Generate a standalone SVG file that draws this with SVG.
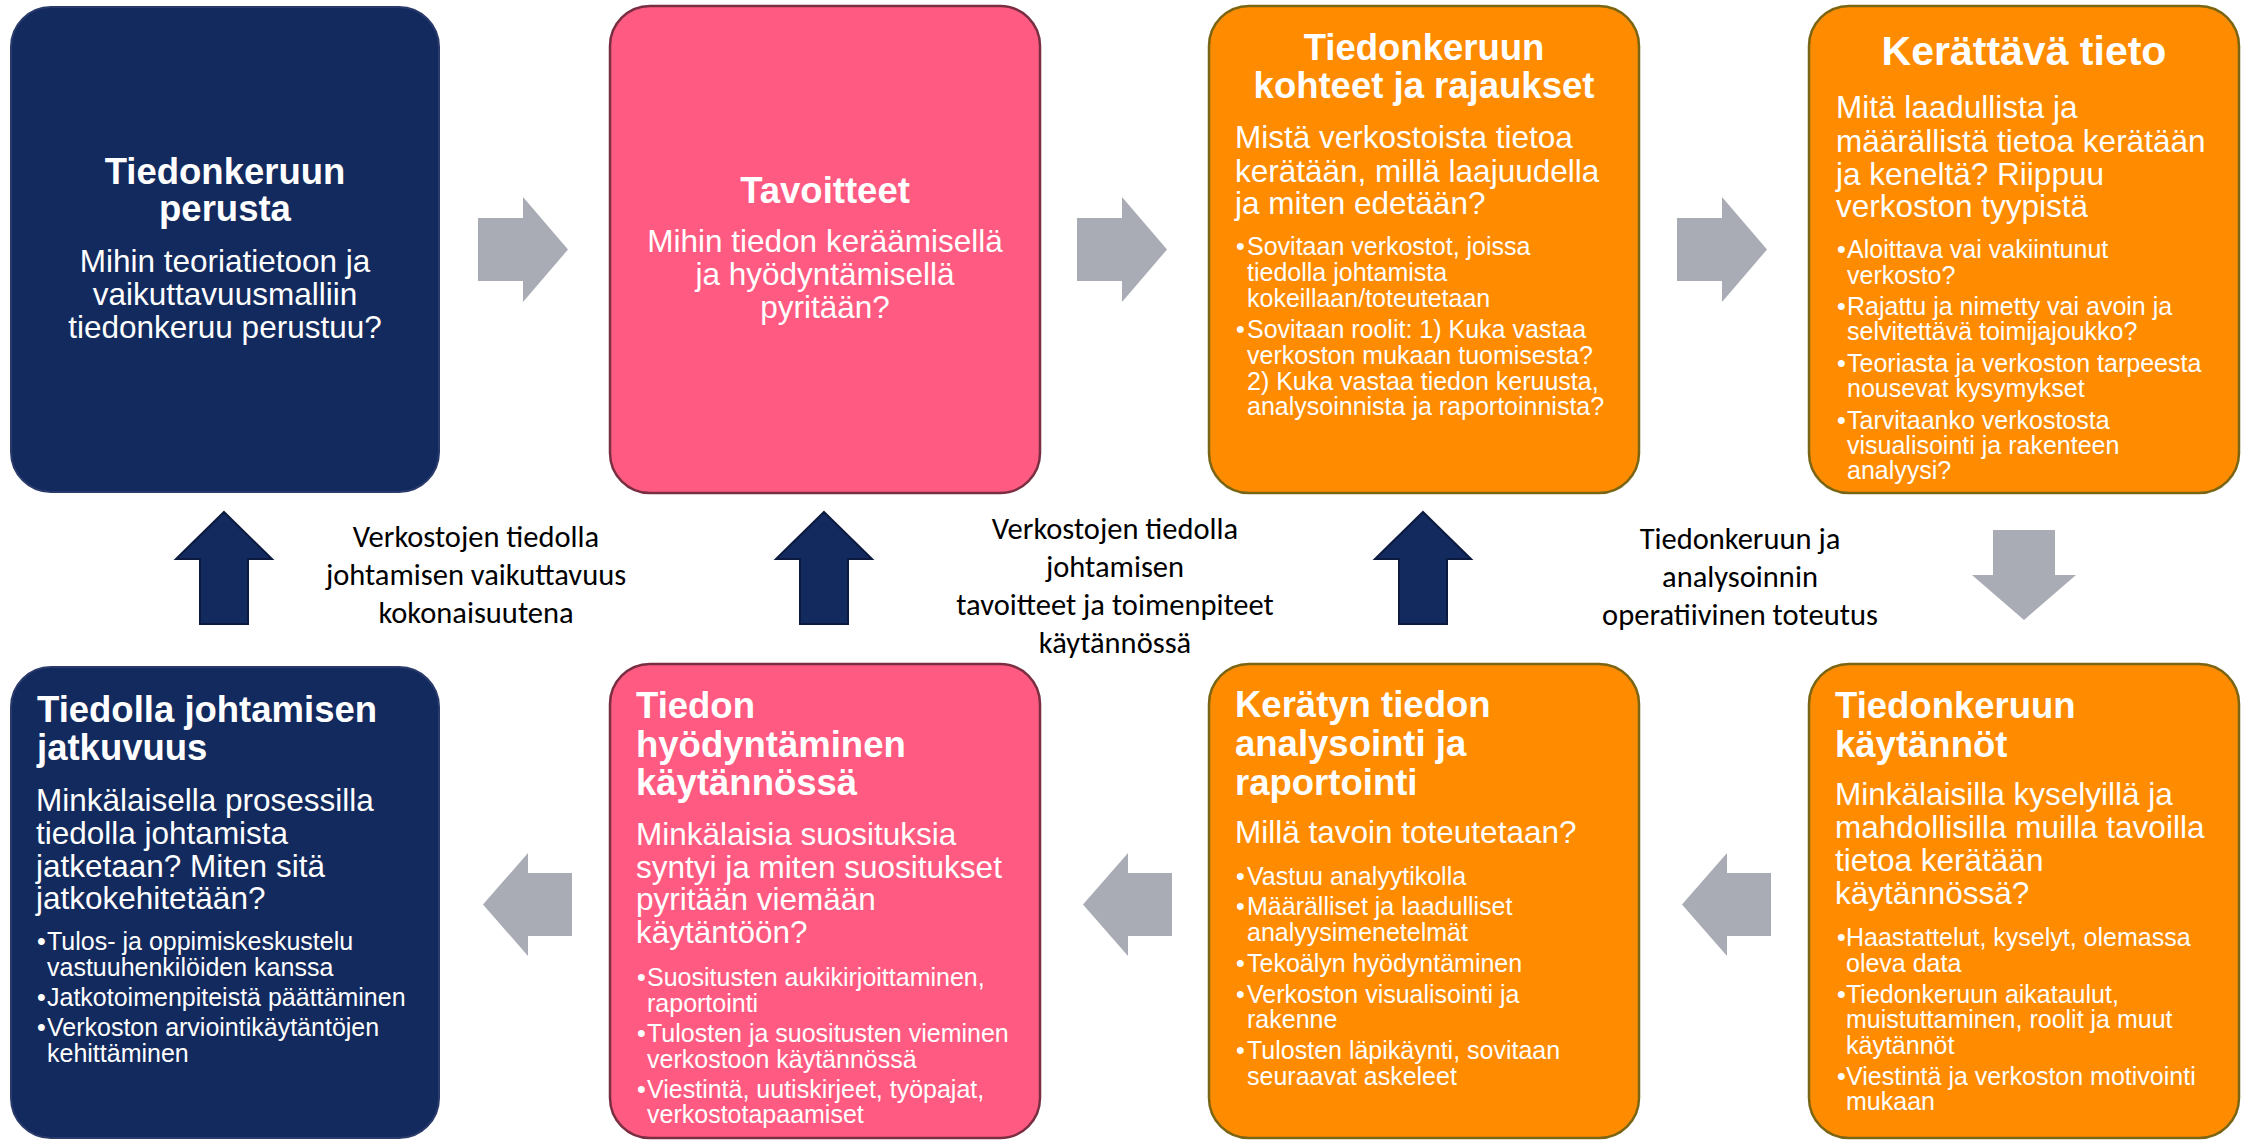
<svg xmlns="http://www.w3.org/2000/svg" width="2249" height="1140" viewBox="0 0 2249 1140">
<style>
.bg{fill:#ffffff}
.navy{fill:#132A5E;stroke:#2A3B6B;stroke-width:2}
.pink{fill:#FF5B82;stroke:#7A2E42;stroke-width:2.5}
.orange{fill:#FF8C00;stroke:#7A6514;stroke-width:2.5}
.t{font-family:"Liberation Sans",Arial,sans-serif;fill:#ffffff}
.h{font-weight:bold;font-size:36.5px}
.s{font-size:31.5px}
.b{font-size:25px}
.c{text-anchor:middle}
.garr{fill:#A9ACB5}
.narr{fill:#132A5E;stroke:#0B1A3E;stroke-width:2}
.lbl{font-family:Carlito,Lato,"Liberation Sans",sans-serif;font-size:30.5px;fill:#000000;text-anchor:middle}
</style>
<rect class="bg" x="0" y="0" width="2249" height="1140"/>

<g id="connectors">
  <polygon class="garr" points="478,218 523,218 523,197 568,249.5 523,302 523,281 478,281"/>
  <polygon class="garr" points="1077,218 1122,218 1122,197 1167,249.5 1122,302 1122,281 1077,281"/>
  <polygon class="garr" points="1677,218 1722,218 1722,197 1767,249.5 1722,302 1722,281 1677,281"/>
  <polygon class="garr" points="1993,530 2055,530 2055,575 2076,575 2024,620 1972,575 1993,575"/>
  <polygon class="garr" points="1682,904.5 1727,853 1727,873 1771,873 1771,936 1727,936 1727,956"/>
  <polygon class="garr" points="1083,904.5 1128,853 1128,873 1172,873 1172,936 1128,936 1128,956"/>
  <polygon class="garr" points="483,904.5 528,853 528,873 572,873 572,936 528,936 528,956"/>
  <polygon class="narr" points="224,512 272,559 248,559 248,624 200,624 200,559 176,559"/>
  <polygon class="narr" points="824,512 872,559 848,559 848,624 800,624 800,559 776,559"/>
  <polygon class="narr" points="1423,512 1471,559 1447,559 1447,624 1399,624 1399,559 1375,559"/>
  <text class="lbl" x="476"><tspan x="476" y="547">Verkostojen tiedolla</tspan><tspan x="476" y="585">johtamisen vaikuttavuus</tspan><tspan x="476" y="623">kokonaisuutena</tspan></text>
  <text class="lbl" x="1115"><tspan x="1115" y="539">Verkostojen tiedolla</tspan><tspan x="1115" y="577">johtamisen</tspan><tspan x="1115" y="615">tavoitteet ja toimenpiteet</tspan><tspan x="1115" y="653">käytännössä</tspan></text>
  <text class="lbl" x="1740"><tspan x="1740" y="549">Tiedonkeruun ja</tspan><tspan x="1740" y="587">analysoinnin</tspan><tspan x="1740" y="625">operatiivinen toteutus</tspan></text>
</g>

<g id="node-perusta">
  <rect class="navy" x="11" y="7" width="428" height="485" rx="40"/>
  <text class="t h c"><tspan x="225" y="184">Tiedonkeruun</tspan><tspan x="225" y="221">perusta</tspan></text>
  <text class="t s c"><tspan x="225" y="272">Mihin teoriatietoon ja</tspan><tspan x="225" y="305">vaikuttavuusmalliin</tspan><tspan x="225" y="338">tiedonkeruu perustuu?</tspan></text>
</g>

<g id="node-tavoitteet">
  <rect class="pink" x="610" y="6" width="430" height="487" rx="40"/>
  <text class="t h c"><tspan x="825" y="203">Tavoitteet</tspan></text>
  <text class="t s c"><tspan x="825" y="252">Mihin tiedon keräämisellä</tspan><tspan x="825" y="285">ja hyödyntämisellä</tspan><tspan x="825" y="318">pyritään?</tspan></text>
</g>

<g id="node-kohteet">
  <rect class="orange" x="1209" y="6" width="430" height="487" rx="40"/>
  <text class="t h c"><tspan x="1424" y="60">Tiedonkeruun</tspan><tspan x="1424" y="98">kohteet ja rajaukset</tspan></text>
  <text class="t s"><tspan x="1235" y="148">Mistä verkostoista tietoa</tspan><tspan x="1235" y="182">kerätään, millä laajuudella</tspan><tspan x="1235" y="214">ja miten edetään?</tspan></text>
  <text class="t b"><tspan x="1236" y="255">•</tspan><tspan x="1236" y="338">•</tspan></text>
  <text class="t b"><tspan x="1247" y="255">Sovitaan verkostot, joissa</tspan><tspan x="1247" y="281">tiedolla johtamista</tspan><tspan x="1247" y="307">kokeillaan/toteutetaan</tspan><tspan x="1247" y="338">Sovitaan roolit: 1) Kuka vastaa</tspan><tspan x="1247" y="364">verkoston mukaan tuomisesta?</tspan><tspan x="1247" y="390">2) Kuka vastaa tiedon keruusta,</tspan><tspan x="1247" y="415">analysoinnista ja raportoinnista?</tspan></text>
</g>

<g id="node-kerattava">
  <rect class="orange" x="1809" y="6" width="430" height="487" rx="40"/>
  <text class="t c" style="font-weight:bold;font-size:41px"><tspan x="2024" y="65">Kerättävä tieto</tspan></text>
  <text class="t s"><tspan x="1836" y="118">Mitä laadullista ja</tspan><tspan x="1836" y="152">määrällistä tietoa kerätään</tspan><tspan x="1836" y="185">ja keneltä? Riippuu</tspan><tspan x="1836" y="217">verkoston tyypistä</tspan></text>
  <text class="t b"><tspan x="1837" y="258">•</tspan><tspan x="1837" y="315">•</tspan><tspan x="1837" y="372">•</tspan><tspan x="1837" y="429">•</tspan></text>
  <text class="t b"><tspan x="1847" y="258">Aloittava vai vakiintunut</tspan><tspan x="1847" y="284">verkosto?</tspan><tspan x="1847" y="315">Rajattu ja nimetty vai avoin ja</tspan><tspan x="1847" y="340">selvitettävä toimijajoukko?</tspan><tspan x="1847" y="372">Teoriasta ja verkoston tarpeesta</tspan><tspan x="1847" y="397">nousevat kysymykset</tspan><tspan x="1847" y="429">Tarvitaanko verkostosta</tspan><tspan x="1847" y="454">visualisointi ja rakenteen</tspan><tspan x="1847" y="479">analyysi?</tspan></text>
</g>

<g id="node-kaytannot">
  <rect class="orange" x="1809" y="664" width="430" height="474" rx="40"/>
  <text class="t h"><tspan x="1835" y="718">Tiedonkeruun</tspan><tspan x="1835" y="757">käytännöt</tspan></text>
  <text class="t s"><tspan x="1835" y="805">Minkälaisilla kyselyillä ja</tspan><tspan x="1835" y="838">mahdollisilla muilla tavoilla</tspan><tspan x="1835" y="871">tietoa kerätään</tspan><tspan x="1835" y="904">käytännössä?</tspan></text>
  <text class="t b"><tspan x="1837" y="946">•</tspan><tspan x="1837" y="1003">•</tspan><tspan x="1837" y="1085">•</tspan></text>
  <text class="t b"><tspan x="1846" y="946">Haastattelut, kyselyt, olemassa</tspan><tspan x="1846" y="972">oleva data</tspan><tspan x="1846" y="1003">Tiedonkeruun aikataulut,</tspan><tspan x="1846" y="1028">muistuttaminen, roolit ja muut</tspan><tspan x="1846" y="1054">käytännöt</tspan><tspan x="1846" y="1085">Viestintä ja verkoston motivointi</tspan><tspan x="1846" y="1110">mukaan</tspan></text>
</g>

<g id="node-analysointi">
  <rect class="orange" x="1209" y="664" width="430" height="474" rx="40"/>
  <text class="t h"><tspan x="1235" y="717">Kerätyn tiedon</tspan><tspan x="1235" y="756">analysointi ja</tspan><tspan x="1235" y="795">raportointi</tspan></text>
  <text class="t s"><tspan x="1235" y="843">Millä tavoin toteutetaan?</tspan></text>
  <text class="t b"><tspan x="1236" y="885">•</tspan><tspan x="1236" y="915">•</tspan><tspan x="1236" y="972">•</tspan><tspan x="1236" y="1003">•</tspan><tspan x="1236" y="1059">•</tspan></text>
  <text class="t b"><tspan x="1247" y="885">Vastuu analyytikolla</tspan><tspan x="1247" y="915">Määrälliset ja laadulliset</tspan><tspan x="1247" y="941">analyysimenetelmät</tspan><tspan x="1247" y="972">Tekoälyn hyödyntäminen</tspan><tspan x="1247" y="1003">Verkoston visualisointi ja</tspan><tspan x="1247" y="1028">rakenne</tspan><tspan x="1247" y="1059">Tulosten läpikäynti, sovitaan</tspan><tspan x="1247" y="1085">seuraavat askeleet</tspan></text>
</g>

<g id="node-hyodyntaminen">
  <rect class="pink" x="610" y="664" width="430" height="474" rx="40"/>
  <text class="t h"><tspan x="636" y="718">Tiedon</tspan><tspan x="636" y="757">hyödyntäminen</tspan><tspan x="636" y="795">käytännössä</tspan></text>
  <text class="t s"><tspan x="636" y="845">Minkälaisia suosituksia</tspan><tspan x="636" y="878">syntyi ja miten suositukset</tspan><tspan x="636" y="910">pyritään viemään</tspan><tspan x="636" y="943">käytäntöön?</tspan></text>
  <text class="t b"><tspan x="637" y="986">•</tspan><tspan x="637" y="1042">•</tspan><tspan x="637" y="1098">•</tspan></text>
  <text class="t b"><tspan x="647" y="986">Suositusten aukikirjoittaminen,</tspan><tspan x="647" y="1012">raportointi</tspan><tspan x="647" y="1042">Tulosten ja suositusten vieminen</tspan><tspan x="647" y="1068">verkostoon käytännössä</tspan><tspan x="647" y="1098">Viestintä, uutiskirjeet, työpajat,</tspan><tspan x="647" y="1123">verkostotapaamiset</tspan></text>
</g>

<g id="node-jatkuvuus">
  <rect class="navy" x="11" y="667" width="428" height="471" rx="40"/>
  <text class="t h"><tspan x="37" y="722">Tiedolla johtamisen</tspan><tspan x="37" y="760">jatkuvuus</tspan></text>
  <text class="t s"><tspan x="36" y="811">Minkälaisella prosessilla</tspan><tspan x="36" y="844">tiedolla johtamista</tspan><tspan x="36" y="877">jatketaan? Miten sitä</tspan><tspan x="36" y="909">jatkokehitetään?</tspan></text>
  <text class="t b"><tspan x="37" y="950">•</tspan><tspan x="37" y="1006">•</tspan><tspan x="37" y="1036">•</tspan></text>
  <text class="t b"><tspan x="47" y="950">Tulos- ja oppimiskeskustelu</tspan><tspan x="47" y="976">vastuuhenkilöiden kanssa</tspan><tspan x="47" y="1006">Jatkotoimenpiteistä päättäminen</tspan><tspan x="47" y="1036">Verkoston arviointikäytäntöjen</tspan><tspan x="47" y="1062">kehittäminen</tspan></text>
</g>
</svg>
